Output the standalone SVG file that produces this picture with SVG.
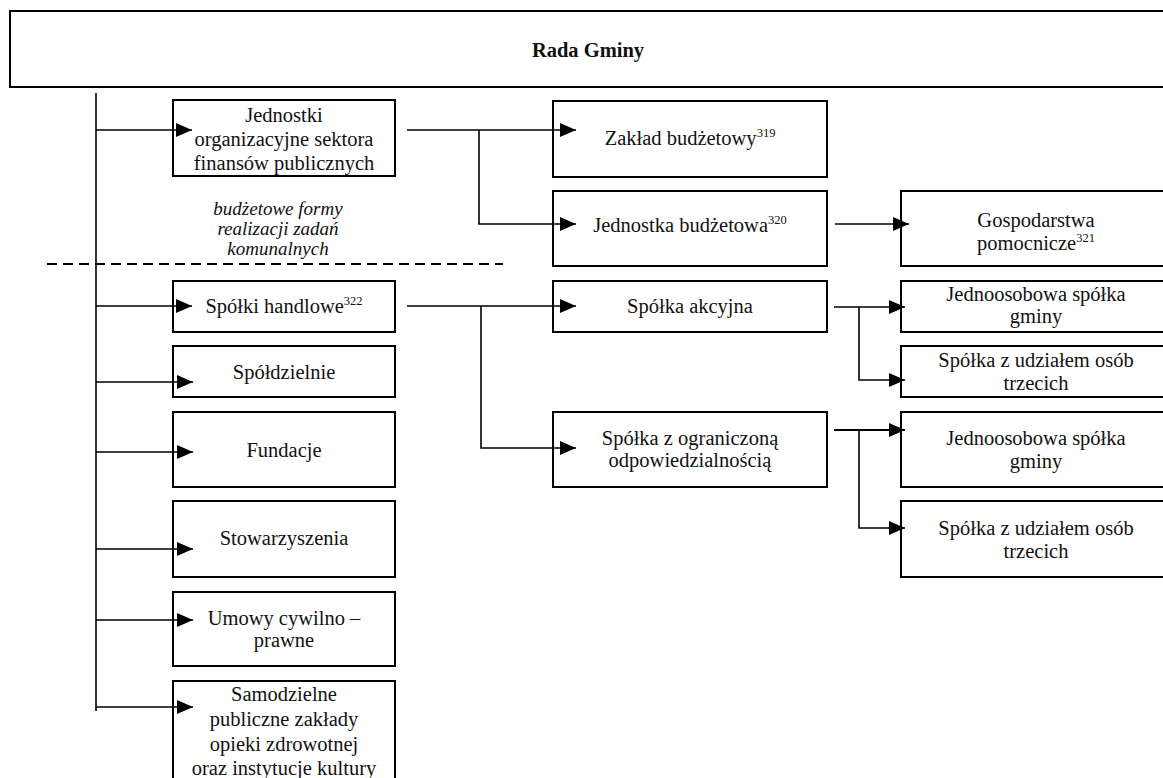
<svg xmlns="http://www.w3.org/2000/svg" width="1163" height="778" viewBox="0 0 1163 778">
  <style>
    .box { fill: #fff; stroke: #000; stroke-width: 2; }
    .t { font-family: 'Liberation Serif', Tinos, 'Times New Roman', 'DejaVu Serif', serif; font-size: 20.5px; fill: #111; text-anchor: middle; }
    .it { font-family: 'Liberation Serif', Tinos, 'Times New Roman', 'DejaVu Serif', serif; font-size: 19px; font-style: italic; fill: #111; text-anchor: middle; }
    .title { font-weight: bold; }
    .sup { font-size: 12.5px; }
    .wire { fill: none; stroke: #000; stroke-width: 1.6; marker-end: url(#arrow); }
    .plain { fill: none; stroke: #000; stroke-width: 1.6; }
    .dash { fill: none; stroke: #000; stroke-width: 2; stroke-dasharray: 10 6; }
  </style>
  <defs>
    <marker id="arrow" markerUnits="userSpaceOnUse" markerWidth="16" markerHeight="14" refX="16" refY="7" orient="auto">
      <path d="M0,0 L16,7 L0,14 z" fill="#000"/>
    </marker>
  </defs>
  <rect width="1163" height="778" fill="#fff"/>

  <g id="rada-gminy">
    <rect class="box" x="10" y="11" width="1170" height="76"/>
    <text class="t title" x="588" y="57" font-family="Liberation Serif, serif">Rada Gminy</text>
  </g>

  <g id="jednostki-organizacyjne">
    <rect class="box" x="173" y="100" width="222" height="76"/>
    <text class="t" x="284" y="122">Jednostki</text>
    <text class="t" x="284" y="146">organizacyjne sektora</text>
    <text class="t" x="284" y="170">finansów publicznych</text>
  </g>

  <g id="budzetowe-formy">
    <text class="it" x="278" y="215">budżetowe formy</text>
    <text class="it" x="278" y="235">realizacji zadań</text>
    <text class="it" x="278" y="255">komunalnych</text>
  </g>

  <g id="zaklad-budzetowy">
    <rect class="box" x="553" y="101" width="274" height="76"/>
    <text class="t" x="690" y="145">Zakład budżetowy<tspan class="sup" dy="-8">319</tspan></text>
  </g>

  <g id="jednostka-budzetowa">
    <rect class="box" x="553" y="191" width="274" height="75"/>
    <text class="t" x="690" y="232">Jednostka budżetowa<tspan class="sup" dy="-8">320</tspan></text>
  </g>

  <g id="gospodarstwa-pomocnicze">
    <rect class="box" x="901" y="191" width="280" height="75"/>
    <text class="t" x="1036" y="227">Gospodarstwa</text>
    <text class="t" x="1036" y="250">pomocnicze<tspan class="sup" dy="-8">321</tspan></text>
  </g>

  <g id="spolki-handlowe">
    <rect class="box" x="173" y="281" width="222" height="51"/>
    <text class="t" x="284" y="313">Spółki handlowe<tspan class="sup" dy="-8">322</tspan></text>
  </g>

  <g id="spoldzielnie">
    <rect class="box" x="173" y="346" width="222" height="51"/>
    <text class="t" x="284" y="379">Spółdzielnie</text>
  </g>

  <g id="fundacje">
    <rect class="box" x="173" y="412" width="222" height="75"/>
    <text class="t" x="284" y="457">Fundacje</text>
  </g>

  <g id="stowarzyszenia">
    <rect class="box" x="173" y="501" width="222" height="76"/>
    <text class="t" x="284" y="545">Stowarzyszenia</text>
  </g>

  <g id="umowy-cywilnoprawne">
    <rect class="box" x="173" y="592" width="222" height="74"/>
    <text class="t" x="284" y="625">Umowy cywilno –</text>
    <text class="t" x="284" y="647">prawne</text>
  </g>

  <g id="samodzielne-zaklady">
    <rect class="box" x="173" y="681" width="222" height="110"/>
    <text class="t" x="284" y="701">Samodzielne</text>
    <text class="t" x="284" y="726">publiczne zakłady</text>
    <text class="t" x="284" y="751">opieki zdrowotnej</text>
    <text class="t" x="284" y="775">oraz instytucje kultury</text>
  </g>

  <g id="spolka-akcyjna">
    <rect class="box" x="553" y="281" width="274" height="51"/>
    <text class="t" x="690" y="313">Spółka akcyjna</text>
  </g>

  <g id="spolka-zoo">
    <rect class="box" x="553" y="412" width="274" height="75"/>
    <text class="t" x="690" y="445">Spółka z ograniczoną</text>
    <text class="t" x="690" y="467">odpowiedzialnością</text>
  </g>

  <g id="sa-jednoosobowa">
    <rect class="box" x="901" y="281" width="280" height="51"/>
    <text class="t" x="1036" y="301">Jednoosobowa spółka</text>
    <text class="t" x="1036" y="323">gminy</text>
  </g>

  <g id="sa-z-udzialem">
    <rect class="box" x="901" y="346" width="280" height="51"/>
    <text class="t" x="1036" y="367">Spółka z udziałem osób</text>
    <text class="t" x="1036" y="390">trzecich</text>
  </g>

  <g id="zoo-jednoosobowa">
    <rect class="box" x="901" y="412" width="280" height="75"/>
    <text class="t" x="1036" y="445">Jednoosobowa spółka</text>
    <text class="t" x="1036" y="468">gminy</text>
  </g>

  <g id="zoo-z-udzialem">
    <rect class="box" x="901" y="501" width="280" height="76"/>
    <text class="t" x="1036" y="535">Spółka z udziałem osób</text>
    <text class="t" x="1036" y="558">trzecich</text>
  </g>

  <g id="connectors">
    <!-- separator between budget and non-budget forms -->
    <path class="dash" d="M47 264 H503"/>
    <!-- main trunk from the council -->
    <path class="plain" d="M96 93 V711"/>
    <path class="wire" d="M96 130 H192"/>
    <path class="wire" d="M96 306 H192"/>
    <path class="wire" d="M96 382 H193"/>
    <path class="wire" d="M96 452 H193"/>
    <path class="wire" d="M96 549 H193"/>
    <path class="wire" d="M96 620 H193"/>
    <path class="wire" d="M96 707 H193"/>
    <!-- public finance units -->
    <path class="wire" d="M407 130 H576"/>
    <path class="wire" d="M479 130 V224 H576"/>
    <path class="wire" d="M835 224 H909"/>
    <!-- commercial companies -->
    <path class="wire" d="M407 306 H576"/>
    <path class="wire" d="M481 306 V448 H576"/>
    <path class="wire" d="M834 307 H905"/>
    <path class="wire" d="M859 307 V380 H905"/>
    <path class="wire" d="M834 430 H905" style="stroke-width:2.2"/>
    <path class="wire" d="M859 430 V528 H905"/>
  </g>
</svg>
